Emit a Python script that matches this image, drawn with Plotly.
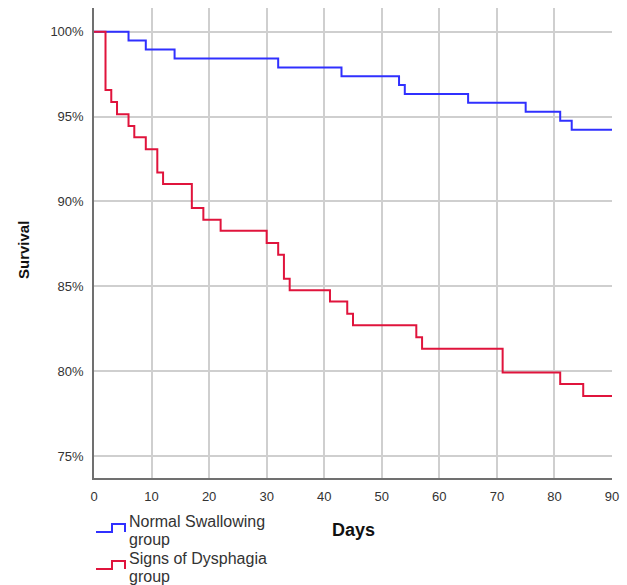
import plotly.graph_objects as go

# Kaplan-Meier step data (days, survival %)
normal_days = [0, 6, 9, 14, 32, 43, 53, 54, 65, 75, 81, 83, 90]
normal_surv = [100, 99.48, 98.95, 98.43, 97.9, 97.38, 96.86, 96.33, 95.81, 95.28, 94.76, 94.23, 94.23]

dysph_days = [0, 2, 3, 4, 6, 7, 9, 11, 12, 17, 19, 22, 30, 32, 33, 34, 41, 44, 45, 56, 57, 71, 81, 85, 90]
dysph_surv = [100, 96.57, 95.86, 95.14, 94.45, 93.78, 93.08, 91.71, 91.02, 89.62, 88.92, 88.27,
              87.55, 86.86, 85.44, 84.76, 84.1, 83.38, 82.7, 82.0, 81.32, 79.92, 79.24, 78.54, 78.54]

x_ticks = [0, 10, 20, 30, 40, 50, 60, 70, 80, 90]
y_ticks = [75, 80, 85, 90, 95, 100]

series_names = ["Normal Swallowing", "Signs of Dysphagia"]
series_colors = ["#3030ff", "#e0143c"]

W, H = 627, 585
L, R, T, B = 94, 15, 8, 107
PW, PH = W - L - R, H - T - B


def px(xp):
    return (xp - L) / PW


def py(yp):
    return (H - B - yp) / PH


fig = go.Figure()
fig.add_trace(go.Scatter(x=normal_days, y=normal_surv, mode="lines", line_shape="hv",
                         line=dict(color=series_colors[0], width=2),
                         name=series_names[0], showlegend=False))
fig.add_trace(go.Scatter(x=dysph_days, y=dysph_surv, mode="lines", line_shape="hv",
                         line=dict(color=series_colors[1], width=2),
                         name=series_names[1], showlegend=False))

# custom legend (step icons + two-line labels)
shapes = []
annotations = []
for i, (nm, col) in enumerate(zip(series_names, series_colors)):
    low = 532 + 37 * i
    high = low - 8
    path = (f"M {px(96)},{py(low)} L {px(112)},{py(low)} L {px(112)},{py(high)} "
            f"L {px(125)},{py(high)} L {px(125)},{py(low)}")
    shapes.append(dict(type="path", path=path, xref="paper", yref="paper",
                       line=dict(color=col, width=2)))
    for j, txt in enumerate([nm, "group"]):
        annotations.append(dict(text=txt, x=px(127), y=py(521 + 37 * i + 18 * j),
                                xref="paper", yref="paper", xanchor="left", yanchor="middle",
                                showarrow=False, font=dict(size=16, color="#333333")))

annotations.append(dict(text="<b>Days</b>", x=px(353), y=py(530), xref="paper", yref="paper",
                        xanchor="center", yanchor="middle", showarrow=False,
                        font=dict(size=18, color="#111111")))
annotations.append(dict(text="<b>Survival</b>", x=px(24), y=py(250), xref="paper", yref="paper",
                        xanchor="center", yanchor="middle", showarrow=False, textangle=-90,
                        font=dict(size=15, color="#111111")))

fig.update_layout(
    width=W, height=H,
    margin=dict(l=L, r=R, t=T, b=B),
    paper_bgcolor="white", plot_bgcolor="white",
    font=dict(family="Liberation Sans, Arial, sans-serif", color="#333333", size=13),
    showlegend=False,
    shapes=shapes,
    annotations=annotations,
)
fig.update_xaxes(range=[0, 90], tickvals=x_ticks, ticktext=[str(v) for v in x_ticks],
                 showgrid=True, gridcolor="#cfcfcf", gridwidth=1.5,
                 showline=True, linecolor="#707070", linewidth=1.5,
                 zeroline=False, ticks="", ticklabelstandoff=6,
                 tickfont=dict(size=13, color="#333333"))
fig.update_yaxes(range=[73.7, 101.4], tickvals=y_ticks, ticktext=[f"{v}%" for v in y_ticks],
                 showgrid=True, gridcolor="#cfcfcf", gridwidth=1.5,
                 showline=True, linecolor="#707070", linewidth=1.5,
                 zeroline=False, ticks="", ticklabelstandoff=6,
                 tickfont=dict(size=13, color="#333333"))

fig.write_html("out.html")
